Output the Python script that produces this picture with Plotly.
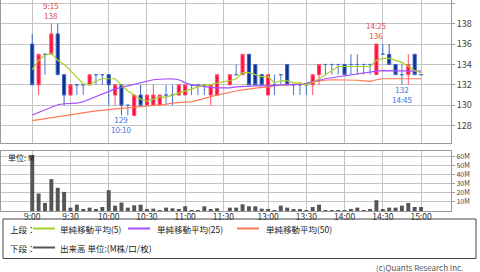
import plotly.graph_objects as go

# ---------------- data (5-minute bars; 11:30 slot has no trade) ----------------
times = ["9:00", "9:05", "9:10", "9:15", "9:20", "9:25", "9:30", "9:35", "9:40", "9:45",
         "9:50", "9:55", "10:00", "10:05", "10:10", "10:15", "10:20", "10:25", "10:30", "10:35",
         "10:40", "10:45", "10:50", "10:55", "11:00", "11:05", "11:10", "11:15", "11:20", "11:25",
         "11:30",
         "12:30", "12:35", "12:40", "12:45", "12:50", "12:55", "13:00", "13:05", "13:10", "13:15",
         "13:20", "13:25", "13:30", "13:35", "13:40", "13:45", "13:50", "13:55", "14:00", "14:05",
         "14:10", "14:15", "14:20", "14:25", "14:30", "14:35", "14:40", "14:45", "14:50", "14:55",
         "15:00"]

opens = [136, 132, 135, 135, 137, 133, 131, 132, 132, 132, 133, 133, 133, 131, 132, 130, 129, 131, 130, 130,
         130, 131, 131, 131, 131, 132, 132, 132, 131, 131, None,
         132, 133, 133, 135, 134, 133, 131, 132, 133, 134, 132, 132, 132, 132, 133, 134, 134, 134, 134, 134,
         134, 134, 134, 133, 135, 135, 134, 133, 133, 135, 133]
highs = [137, 135, 135, 138, 138, 133, 132, 132, 132, 133, 133, 133, 133, 132, 132, 130, 131, 132, 131, 132,
         131, 132, 132, 132, 132, 132, 132, 132, 132, 133, None,
         133, 134, 135, 135, 134, 133, 133, 133, 133, 134, 132, 132, 132, 133, 134, 134, 134, 134, 134, 135,
         135, 134, 134, 136, 136, 136, 134, 134, 135, 135, 133]
lows = [132, 131, 133, 135, 133, 130, 131, 131, 131, 132, 132, 132, 130, 130, 129, 129, 129, 130, 130, 130,
        130, 130, 130, 131, 131, 131, 131, 131, 130, 131, None,
        132, 133, 133, 132, 132, 132, 131, 131, 132, 132, 131, 131, 131, 131, 132, 133, 133, 133, 133, 133,
        133, 133, 133, 133, 135, 134, 133, 132, 132, 133, 133]
closes = [132, 135, 135, 137, 133, 131, 132, 132, 132, 133, 133, 133, 132, 132, 130, 130, 131, 130, 131, 131,
          131, 131, 131, 132, 132, 132, 132, 132, 132, 133, None,
          133, 133, 135, 132, 132, 132, 133, 132, 133, 132, 132, 132, 132, 133, 134, 134, 134, 134, 133, 134,
          134, 134, 134, 136, 135, 134, 133, 133, 134, 133, 133]
volume_m = [62, 19.3, 8.9, 35.2, 25.6, 21.1, 3.7, 7.0, 1.9, 3.7, 1.5, 4.4, 23.0, 5.9, 9.3, 3.7, 6.3, 7.0, 1.9, 2.6,
            0.7, 3.7, 3.0, 2.2, 5.2, 1.1, 1.1, 5.2, 2.2, 3.0, None,
            3.7, 3.7, 7.4, 5.2, 5.2, 2.6, 1.5, 0.3, 5.9, 3.7, 1.9, 1.9, 0.3, 4.4, 7.0, 0.5, 0.3, 0.3, 0.3, 1.9,
            3.7, 0.3, 1.9, 11.9, 1.5, 3.7, 3.7, 5.9, 8.9, 4.4, 4.4]
ma5 = [133.5, 134.4, 134.9, 135.1, 134.4, 134.0, 133.4, 132.8, 132.1, 132.0, 132.4, 132.6, 132.6, 132.6, 132.0,
       131.4, 131.0, 130.6, 130.4, 130.6, 130.8, 130.8, 131.0, 131.2, 131.4, 131.6, 131.8, 132.0, 132.0, 132.2, None,
       132.4, 132.6, 133.2, 133.2, 133.0, 132.8, 132.8, 132.2, 132.4, 132.4, 132.2, 132.2, 132.0, 132.2, 132.6,
       133.0, 133.4, 133.8, 133.8, 133.8, 133.8, 133.8, 133.8, 134.4, 134.6, 134.6, 134.4, 134.2, 133.8, 133.4, 133.2]
ma25 = [129.05, 129.3, 129.55, 129.8, 130.05, 130.15, 130.15, 130.2, 130.35, 130.6, 130.85, 131.15, 131.4, 131.6,
        131.75, 131.9, 132.1, 132.25, 132.4, 132.5, 132.55, 132.6, 132.6, 132.5, 132.2, 132.0, 131.9, 131.8, 131.75,
        131.7, None,
        131.7, 131.8, 131.85, 131.9, 131.9, 131.9, 131.9, 131.95, 132.0, 132.0, 132.0, 132.05, 132.15, 132.3, 132.5,
        132.6, 132.7, 132.8, 132.9, 133.0, 133.1, 133.2, 133.3, 133.35, 133.4, 133.4, 133.4, 133.4, 133.4, 133.4,
        133.35]
ma50 = [128.5, 128.6, 128.7, 128.8, 128.9, 129.0, 129.05, 129.15, 129.25, 129.35, 129.45, 129.5, 129.6, 129.65,
        129.7, 129.75, 129.8, 129.85, 129.9, 129.95, 130.0, 130.1, 130.2, 130.25, 130.3, 130.35, 130.5, 130.7, 130.85,
        131.0, None,
        131.3, 131.4, 131.5, 131.6, 131.65, 131.75, 131.8, 131.9, 132.0, 132.0, 132.05, 132.1, 132.15, 132.3, 132.4,
        132.45, 132.5, 132.5, 132.5, 132.5, 132.45, 132.4, 132.35, 132.5, 132.6, 132.6, 132.6, 132.6, 132.6, 132.6,
        132.6]

tick_times = ["9:00", "9:30", "10:00", "10:30", "11:00", "11:30", "13:00", "13:30", "14:00", "14:30", "15:00"]
price_ticks = [128, 130, 132, 134, 136, 138, 140]
vol_ticks = [10, 20, 30, 40, 50, 60]
vol_tick_labels = ["10M", "20M", "30M", "40M", "50M", "60M"]
# (time, price, kind)
extremes = [("9:15", 138, "high"), ("10:10", 129, "low"), ("14:25", 136, "high"), ("14:45", 132, "low")]

FONT = "Noto Sans CJK JP"
GRID = "#c4c4c4"
FRAME = "#9a9a9a"

# ---------------- split bars with body / doji ----------------
valid = [i for i in range(len(times)) if opens[i] is not None]
body_idx = [i for i in valid if opens[i] != closes[i]]
doji_idx = [i for i in valid if opens[i] == closes[i]]

fig = go.Figure()

fig.add_trace(go.Candlestick(
    x=[times[i] for i in body_idx], open=[opens[i] for i in body_idx], high=[highs[i] for i in body_idx],
    low=[lows[i] for i in body_idx], close=[closes[i] for i in body_idx],
    increasing=dict(fillcolor="#ff0d3d", line=dict(color="#ff4a6a", width=1)),
    decreasing=dict(fillcolor="#08308f", line=dict(color="#3d64c4", width=1)),
    whiskerwidth=0, xaxis="x", yaxis="y", hoverinfo="skip"))

fig.add_trace(go.Candlestick(
    x=[times[i] for i in doji_idx], open=[opens[i] for i in doji_idx], high=[highs[i] for i in doji_idx],
    low=[lows[i] for i in doji_idx], close=[closes[i] for i in doji_idx],
    increasing=dict(fillcolor="#4a74d0", line=dict(color="#4a74d0", width=1)),
    decreasing=dict(fillcolor="#4a74d0", line=dict(color="#4a74d0", width=1)),
    whiskerwidth=0, xaxis="x", yaxis="y", hoverinfo="skip"))

for vals, col in [(ma50, "#ff7a55"), (ma25, "#a64dff"), (ma5, "#a8cf28")]:
    fig.add_trace(go.Scatter(x=times, y=vals, mode="lines", connectgaps=True,
                             line=dict(color=col, width=1.2), xaxis="x", yaxis="y", hoverinfo="skip"))

fig.add_trace(go.Bar(x=times, y=volume_m, marker=dict(color="#555555", line=dict(width=0)),
                     width=0.62, xaxis="x2", yaxis="y2", hoverinfo="skip"))

# ---------------- high / low labels ----------------
annotations = []
for t, p, kind in extremes:
    if kind == "high":
        txt, shift, col = f"{t}<br>{p}", 13.5, "#e04a4a"
    else:
        txt, shift, col = f"{p}<br>{t}", -9.5, "#3a6fe0"
    annotations.append(dict(x=t, y=p, xref="x", yref="y", text=txt, showarrow=False,
                            yanchor="middle", yshift=shift, borderpad=0,
                            font=dict(family=FONT, size=8, color=col)))

H = 272.0
W = 480.0


def py(v):
    return 1 - v / H


def px(v):
    return v / W


annotations.append(dict(x=px(6), y=py(157), xref="paper", yref="paper", text="単位: M", showarrow=False,
                        xanchor="left", yanchor="middle", font=dict(family=FONT, size=8, color="#222")))

legend_rows = [
    (228.5, "上段：", [("#a8cf28", "単純移動平均(5)", 33, 58), ("#a64dff", "単純移動平均(25)", 128, 155),
                      ("#ff7a55", "単純移動平均(50)", 237, 264)]),
    (247.5, "下段：", [("#555555", "出来高 単位:(M株/口/枚)", 33, 58)]),
]
shapes = [dict(type="rect", xref="paper", yref="paper", x0=px(3), x1=px(476), y0=py(258.5), y1=py(219),
               line=dict(color="#444", width=1), fillcolor="rgba(0,0,0,0)")]
for ry, head, items in legend_rows:
    annotations.append(dict(x=px(8), y=py(ry), xref="paper", yref="paper", text=head, showarrow=False,
                            xanchor="left", yanchor="middle", font=dict(family=FONT, size=8.5, color="#222")))
    for col, label, lx, tx in items:
        shapes.append(dict(type="line", xref="paper", yref="paper", x0=px(lx), x1=px(lx + 22),
                           y0=py(ry), y1=py(ry), line=dict(color=col, width=2)))
        annotations.append(dict(x=px(tx), y=py(ry), xref="paper", yref="paper", text=label, showarrow=False,
                                xanchor="left", yanchor="middle", font=dict(family=FONT, size=8.5, color="#222")))

annotations.append(dict(x=px(465), y=py(267), xref="paper", yref="paper", text="(c)Quants Research Inc.",
                        showarrow=False, xanchor="right", yanchor="middle",
                        font=dict(family=FONT, size=8, color="#555")))

xdom = [px(1), px(451)]
xrange_ = [-4.9, 65.7]
common_x = dict(domain=xdom, type="category", categoryorder="array", categoryarray=times, range=xrange_,
                tickvals=tick_times, showgrid=True, gridcolor=GRID, gridwidth=1, showline=True, mirror=True,
                linecolor=FRAME, zeroline=False, ticks="", fixedrange=True)

fig.update_layout(
    width=480, height=272, margin=dict(l=0, r=0, t=0, b=0),
    paper_bgcolor="white", plot_bgcolor="white", showlegend=False,
    font=dict(family=FONT, size=9, color="#333"),
    xaxis=dict(**common_x, anchor="y", showticklabels=False, rangeslider=dict(visible=False)),
    yaxis=dict(domain=[py(143), 1], range=[126.3, 140.32], side="right", anchor="x", tickvals=price_ticks,
               showgrid=True, gridcolor=GRID, gridwidth=1, showline=True, mirror=True, linecolor=FRAME,
               ticks="outside", ticklen=3, tickcolor=FRAME, zeroline=False,
               tickfont=dict(family=FONT, size=9, color="#444")),
    xaxis2=dict(**common_x, anchor="y2", showticklabels=True, ticklabelstandoff=-2,
                tickfont=dict(family=FONT, size=8.5, color="#333")),
    yaxis2=dict(domain=[py(211), py(151)], range=[0, 66.3], side="right", anchor="x2", tickvals=vol_ticks,
                ticktext=vol_tick_labels, showgrid=True, gridcolor=GRID, gridwidth=1, showline=True,
                mirror=True, linecolor=FRAME, ticks="outside", ticklen=3, tickcolor=FRAME, zeroline=False,
                tickfont=dict(family=FONT, size=7, color="#444")),
    annotations=annotations, shapes=shapes, bargap=0.3,
)

fig.write_html("out.html")
